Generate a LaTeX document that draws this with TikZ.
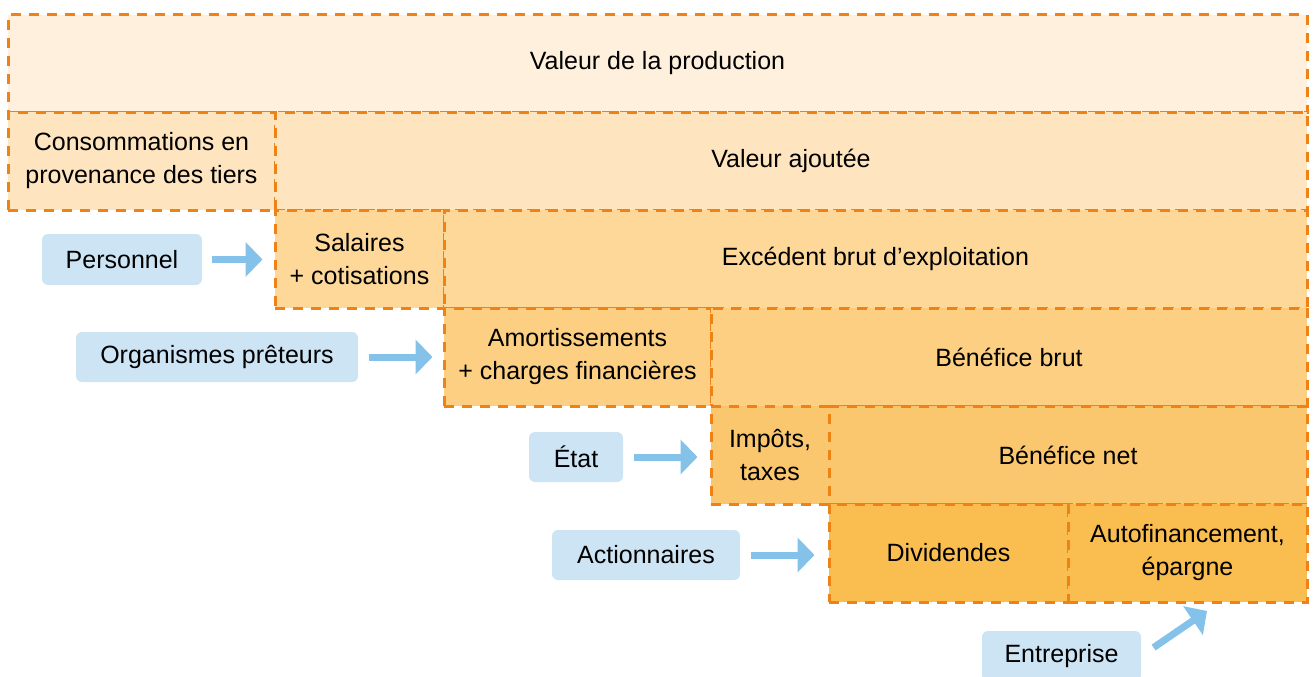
\documentclass[tikz,border=0pt]{standalone}
\usepackage{fontspec}
\setmainfont{Liberation Sans}
\usetikzlibrary{arrows.meta}
\definecolor{rowa}{HTML}{FEF0DC}
\definecolor{rowb}{HTML}{FEE5BF}
\definecolor{rowc}{HTML}{FDD899}
\definecolor{rowd}{HTML}{FCCF82}
\definecolor{rowe}{HTML}{FBC76E}
\definecolor{rowf}{HTML}{FABD4F}
\definecolor{bordc}{HTML}{EF8214}
\definecolor{bluebox}{HTML}{CDE4F5}
\definecolor{bluearr}{HTML}{85C2E9}
\tikzset{
  blk/.style={draw=bordc, line width=3pt, dash pattern=on 10pt off 8pt, rectangle, inner sep=0pt, align=center,
    font=\fontsize{25}{33}\selectfont},
  actor/.style={fill=bluebox, rounded corners=6pt, rectangle, inner sep=0pt, align=center,
    font=\fontsize{25}{33}\selectfont},
  flow/.style={draw=bluearr, line width=7pt, -{Triangle[length=17pt,width=34pt]}},
}
\begin{document}
\begin{tikzpicture}[x=1pt,y=-1pt]
\useasboundingbox (0,0) rectangle (1314,677);
% rows
\node[blk, fill=rowa, minimum width=1299pt, minimum height=97pt] (prod) at (657.5,63.5) {Valeur de la production};
\node[blk, fill=rowb, minimum width=267pt, minimum height=98pt] (cons) at (141.5,161) {Consommations en\\provenance des tiers};
\node[blk, fill=rowb, minimum width=1032pt, minimum height=98pt] (va) at (791,161) {Valeur ajoutée};
\node[blk, fill=rowc, minimum width=169pt, minimum height=98pt] (sal) at (359.5,259) {Salaires\\+ cotisations};
\node[blk, fill=rowc, minimum width=863pt, minimum height=98pt] (ebe) at (875.5,259) {Excédent brut d’exploitation};
\node[blk, fill=rowd, minimum width=267pt, minimum height=98pt] (amo) at (577.5,357) {Amortissements\\+ charges financières};
\node[blk, fill=rowd, minimum width=596pt, minimum height=98pt] (bb) at (1009,357) {Bénéfice brut};
\node[blk, fill=rowe, minimum width=118pt, minimum height=98pt] (imp) at (770,455) {Impôts,\\taxes};
\node[blk, fill=rowe, minimum width=478pt, minimum height=98pt] (bn) at (1068,455) {Bénéfice net};
\node[blk, fill=rowf, minimum width=239pt, minimum height=98pt] (div) at (948.5,553) {Dividendes};
\node[blk, fill=rowf, minimum width=239pt, minimum height=98pt] (auto) at (1187.5,553) {Autofinancement,\\épargne};
% actors
\node[actor, minimum width=160pt, minimum height=51pt] (pers) at (122,259.5) {Personnel};
\node[actor, minimum width=282pt, minimum height=50pt] (org) at (217,357) {Organismes prêteurs};
\node[actor, minimum width=94pt, minimum height=50pt] (etat) at (576,457) {État};
\node[actor, minimum width=188pt, minimum height=50pt] (act) at (646,555) {Actionnaires};
\node[actor, minimum width=159pt, minimum height=50pt] (ent) at (1061.5,656) {Entreprise};
% arrows
\draw[flow, shorten <=10pt, shorten >=11pt] (pers.east) -- (pers.east -| sal.west);
\draw[flow, shorten <=11pt, shorten >=10pt] (org.east) -- (org.east -| amo.west);
\draw[flow, shorten <=11pt, shorten >=12pt] (etat.east) -- (etat.east -| imp.west);
\draw[flow, shorten <=11pt, shorten >=13pt] (act.east) -- (act.east -| div.west);
\coordinate (enttip) at (1207,611);
\draw[flow, shorten <=15pt] (ent.east) -- (enttip);
\end{tikzpicture}
\end{document}
